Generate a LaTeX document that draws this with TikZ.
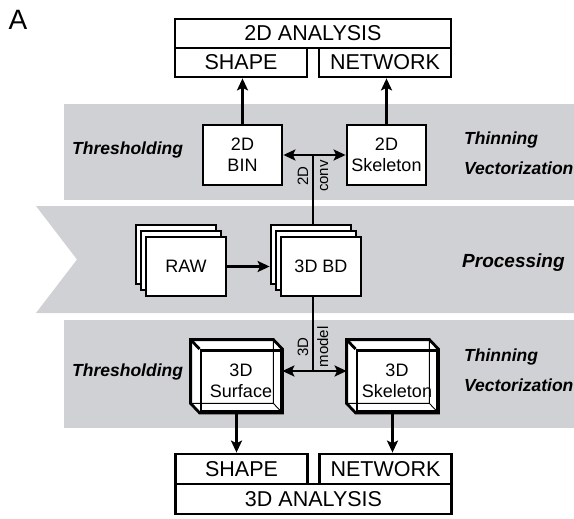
\documentclass[tikz,border=0pt]{standalone}
\usepackage{fontspec}
\setmainfont{Liberation Sans}
\usetikzlibrary{arrows.meta}
\definecolor{bandgray}{RGB}{208,209,212}

\begin{document}
\begin{tikzpicture}
    [x=1pt,y=-1pt,
     box/.style={draw,fill=white,line width=2.8pt,inner sep=0pt,align=center,
       minimum width=79pt,minimum height=60pt,font=\fontsize{18}{21}\selectfont},
     cubeface/.style={line width=2.8pt,inner sep=0pt,align=center,
       minimum width=80pt,minimum height=61pt,font=\fontsize{18}{21}\selectfont},
     result/.style={draw,fill=white,line width=2.8pt,inner sep=0pt,
       minimum height=29pt,font=\fontsize{21.5}{24}\selectfont},
     stagelabel/.style={anchor=base west,inner sep=0pt,
       font=\fontsize{17.5}{20}\selectfont\bfseries\itshape},
     turned/.style={rotate=90,align=center,inner sep=0pt,
       font=\fontsize{15}{20}\selectfont},
     link/.style={line width=2.3pt},
     onearrow/.style={link,-{Stealth[length=12pt,width=11pt,inset=2.5pt]}},
     twoway/.style={link,{Stealth[length=12pt,width=11pt,inset=2.5pt]}-{Stealth[length=12pt,width=11pt,inset=2.5pt]}}]
    \useasboundingbox (0,0) rectangle (574,519);

    % bands
    \fill[bandgray] (64,104) rectangle (574,200);
    \fill[bandgray] (36,206) -- (574,206) -- (574,313) -- (36,313) -- (77,259.5) -- cycle;
    \fill[bandgray] (64,320) rectangle (574,428);

    \node[inner sep=0pt,font=\fontsize{28}{30}\selectfont] (panel) at (18,20) {A};

    % 2D analysis
    \node[result,minimum width=276pt] (ana2) at (313,33.5) {2D ANALYSIS};
    \node[result,minimum width=132pt] (shape2) at (241,62.5) {SHAPE};
    \node[result,minimum width=132pt] (net2) at (385,62.5) {NETWORK};

    \node[box] (bin2) at (242.5,155) {2D\\BIN};
    \node[box] (skel2) at (386.5,155) {2D\\Skeleton};

    % stacks
    \node[box,minimum width=80pt,minimum height=59pt] (rawb) at (176,254.5) {};
    \node[box,minimum width=80pt,minimum height=59pt] (rawm) at (181,260.5) {};
    \node[box,minimum width=80pt,minimum height=59pt] (raw) at (186,266.5) {RAW};
    \node[box,minimum width=80pt,minimum height=59pt] (bdb) at (311,254.5) {};
    \node[box,minimum width=80pt,minimum height=59pt] (bdm) at (316,260.5) {};
    \node[box,minimum width=80pt,minimum height=59pt] (bd) at (321,266.5) {3D BD};

    % 3D boxes
    \foreach \cb/\cx/\ct in {surf3/232/{3D\\Surface},skel3/388/{3D\\Skeleton}} {
      \path (\cx,371.5) node[cubeface] (\cb-b) {};
      \filldraw[fill=white,line width=2.8pt] (\cb-b.north west) -- (\cb-b.north east)
        -- ([shift={(9,9.5)}]\cb-b.north east) -- ([shift={(9,9.5)}]\cb-b.south east)
        -- ([shift={(9,9.5)}]\cb-b.south west) -- (\cb-b.south west) -- cycle;
      \draw[line width=0.9pt] (\cb-b.north east) -- (\cb-b.south east) -- (\cb-b.south west)
        (\cb-b.south east) -- ++(9,9.5);
      \node[cubeface,draw] (\cb) at ([shift={(9,9.5)}]\cb-b.center) {\ct};
      \draw[line width=2.8pt] (\cb-b.north west) -- (\cb.north west);
    }

    % 3D analysis
    \node[result,minimum width=132pt,minimum height=30pt] (shape3) at (241.5,469) {SHAPE};
    \node[result,minimum width=132pt,minimum height=30pt] (net3) at (385.5,469) {NETWORK};
    \node[result,minimum width=276pt,minimum height=30pt] (ana3) at (313.5,499) {3D ANALYSIS};

    % connectors
    \coordinate (up) at (313,155);
    \coordinate (dn) at (313,371);
    \draw[onearrow] (bin2) -- (bin2 |- shape2.south);
    \draw[onearrow] (skel2) -- (skel2 |- net2.south);
    \draw[twoway] (bin2) -- (skel2);
    \draw[link] (up) -- (up |- bdb.north);
    \draw[onearrow] (raw) -- (raw -| bdb.west);
    \draw[link] (dn |- bd.south) -- (dn);
    \draw[twoway] (dn -| surf3.east) -- (dn -| skel3-b.west);
    \draw[onearrow] ([xshift=-4.5pt]surf3.south) -- ([xshift=-4.5pt]surf3.south |- shape3.north);
    \draw[onearrow] ([xshift=-4.5pt]skel3.south) -- ([xshift=-4.5pt]skel3.south |- net3.north);

    \node[turned] (conv2) at (313,176) {2D\\conv};
    \node[turned] (model3) at (313,347) {3D\\model};

    % stage labels
    \node[stagelabel] (thr2) at (72,155) {Thresholding};
    \node[stagelabel] (thin2) at (464,145) {Thinning};
    \node[stagelabel] (vec2) at (464,175) {Vectorization};
    \node[stagelabel,font=\fontsize{19}{22}\selectfont\bfseries\itshape] (proc) at (462,267) {Processing};
    \node[stagelabel] (thr3) at (72,376) {Thresholding};
    \node[stagelabel] (thin3) at (464,361) {Thinning};
    \node[stagelabel] (vec3) at (464,391) {Vectorization};
\end{tikzpicture}
\end{document}
